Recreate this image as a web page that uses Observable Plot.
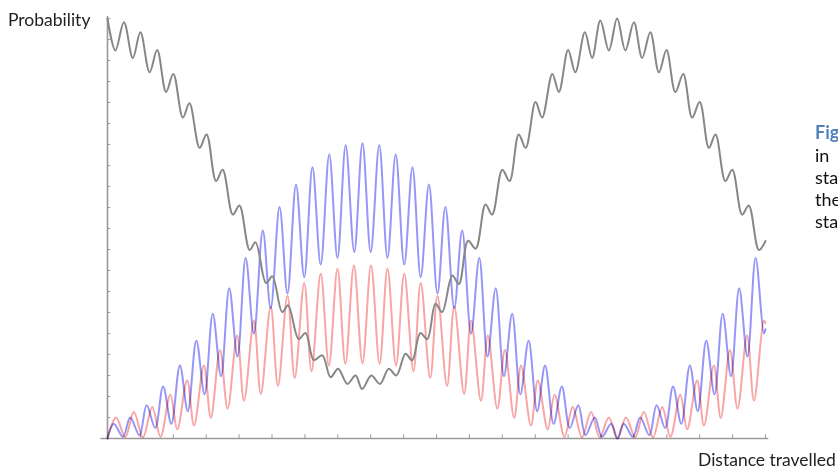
<!DOCTYPE html>
<html>
<head>
<meta charset="utf-8">
<script src="https://cdn.jsdelivr.net/npm/d3@7"></script>
<script src="https://cdn.jsdelivr.net/npm/@observablehq/plot@0.6"></script>
<style>
  html, body { margin: 0; padding: 0; background: #fff; overflow: hidden; }
  #chart { position: relative; width: 838px; height: 469px; }
  svg text.lbl { font-family: Lato, "Open Sans", sans-serif; fill: #222; text-anchor: start; }
</style>
</head>
<body>
<div id="chart"></div>
<script>
// Electron-neutrino survival probability (gray), read at its peaks and troughs
const survivalE = [
  [0,1.0],[0.24,0.924],[0.50,0.991],[0.77,0.906],[1.00,0.967],[1.28,0.872],[1.51,0.925],[1.78,0.825],
  [2.00,0.868],[2.29,0.764],[2.49,0.798],[2.80,0.692],[3.01,0.724],[3.30,0.613],[3.50,0.640],[3.81,0.533],
  [4.01,0.555],[4.32,0.449],[4.50,0.467],[4.82,0.370],[5.01,0.386],[5.31,0.301],[5.49,0.317],[5.81,0.237],
  [6.02,0.251],[6.27,0.187],[6.53,0.198],[6.78,0.146],[7.01,0.166],[7.29,0.130],[7.54,0.150],[7.74,0.118],
  [8.02,0.150],[8.28,0.130],[8.55,0.166],[8.78,0.150],[9.06,0.202],[9.26,0.186],[9.51,0.251],[9.72,0.237],
  [9.97,0.321],[10.17,0.301],[10.48,0.388],[10.68,0.368],[10.96,0.471],[11.19,0.452],[11.49,0.557],[11.69,0.533],
  [12.00,0.640],[12.22,0.613],[12.50,0.724],[12.71,0.692],[13.01,0.801],[13.21,0.764],[13.52,0.868],[13.72,0.825],
  [14.00,0.925],[14.22,0.872],[14.51,0.967],[14.73,0.906],[14.98,0.995],[15.24,0.924],[15.49,1.0],[15.74,0.924],
  [16.00,0.991],[16.25,0.906],[16.50,0.967],[16.76,0.872],[16.99,0.925],[17.26,0.825],[17.50,0.868],[17.77,0.764],
  [18.00,0.801],[18.28,0.692],[18.48,0.724],[18.78,0.613],[18.99,0.640],[19.29,0.533],[19.49,0.555],[19.80,0.449],
  [20.0,0.470]
];

// Blue series, read at its peaks and troughs
const blueMu = [
  [0,0.0],[0.19,0.035],[0.47,0.004],[0.69,0.05],[0.97,0.008],[1.19,0.079],[1.45,0.025],[1.69,0.124],
  [1.94,0.035],[2.2,0.174],[2.44,0.065],[2.7,0.233],[2.95,0.105],[3.2,0.297],[3.45,0.148],[3.7,0.358],
  [3.95,0.195],[4.2,0.430],[4.45,0.25],[4.72,0.495],[4.96,0.31],[5.23,0.551],[5.47,0.345],[5.73,0.605],
  [5.98,0.384],[6.23,0.646],[6.48,0.414],[6.74,0.676],[6.99,0.43],[7.24,0.698],[7.5,0.444],[7.75,0.703],
  [8.0,0.444],[8.26,0.698],[8.51,0.43],[8.76,0.676],[9.02,0.414],[9.27,0.646],[9.52,0.384],[9.77,0.605],
  [10.03,0.345],[10.27,0.551],[10.54,0.31],[10.78,0.495],[11.05,0.25],[11.3,0.430],[11.55,0.195],[11.8,0.358],
  [12.05,0.148],[12.3,0.297],[12.55,0.105],[12.8,0.233],[13.06,0.065],[13.3,0.174],[13.56,0.035],[13.81,0.124],
  [14.05,0.025],[14.31,0.079],[14.53,0.008],[14.81,0.05],[15.03,0.004],[15.31,0.035],[15.5,0.0],
  [15.69,0.035],[15.97,0.004],[16.19,0.05],[16.47,0.008],[16.69,0.079],[16.95,0.025],[17.19,0.124],[17.44,0.035],
  [17.7,0.174],[17.94,0.065],[18.2,0.233],[18.45,0.105],[18.7,0.297],[18.95,0.148],[19.2,0.358],[19.45,0.195],
  [19.7,0.430],[19.95,0.25],[20,0.26]
];

// Red series, read at its peaks and troughs
const redTau = [
  [0,0.0],[0.26,0.05],[0.54,0.003],[0.8,0.063],[1.08,0.003],[1.36,0.075],[1.61,0.004],[1.91,0.104],
  [2.12,0.022],[2.42,0.138],[2.63,0.031],[2.93,0.174],[3.14,0.049],[3.42,0.211],[3.65,0.071],[3.94,0.245],
  [4.15,0.09],[4.45,0.281],[4.66,0.106],[4.96,0.314],[5.18,0.125],[5.47,0.340],[5.69,0.144],[5.98,0.370],
  [6.2,0.16],[6.48,0.392],[6.73,0.174],[6.99,0.404],[7.23,0.178],[7.49,0.412],[7.75,0.179],
  [8.01,0.412],[8.27,0.178],[8.51,0.404],[8.77,0.174],[9.02,0.392],[9.3,0.16],[9.52,0.370],[9.81,0.144],
  [10.03,0.340],[10.32,0.125],[10.54,0.314],[10.84,0.106],[11.05,0.281],[11.35,0.09],[11.56,0.245],[11.85,0.071],
  [12.08,0.211],[12.36,0.049],[12.57,0.174],[12.87,0.031],[13.08,0.138],[13.38,0.022],[13.59,0.104],[13.89,0.004],
  [14.14,0.075],[14.42,0.003],[14.7,0.063],[14.96,0.003],[15.24,0.05],[15.5,0.0],
  [15.76,0.05],[16.04,0.003],[16.3,0.063],[16.58,0.003],[16.86,0.075],[17.11,0.004],[17.41,0.104],[17.62,0.022],
  [17.92,0.138],[18.13,0.031],[18.43,0.174],[18.64,0.049],[18.92,0.211],[19.15,0.071],[19.44,0.245],[19.65,0.09],
  [19.95,0.281],[20,0.275]
];

const xTicks = d3.range(0, 21, 1);
const yTicks = d3.range(0, 1.0001, 0.05);

const yLabel = "Probability";
const xLabel = "Distance travelled";
const sideTitle = "Fig";
const sideLines = ["in", "sta", "the", "sta"];

const axisColor = "#9a9a9a";
const lineOpts = {x: d => d[0], y: d => d[1], curve: "catmull-rom", strokeWidth: 2};

const svg = Plot.plot({
  width: 838,
  height: 469,
  marginLeft: 107,
  marginRight: 73,
  marginTop: 18,
  marginBottom: 31,
  x: {domain: [0, 20], axis: null},
  y: {domain: [0, 1], axis: null},
  marks: [
    Plot.ruleY([0], {x1: -0.2, x2: 20.1, stroke: axisColor, strokeWidth: 1.6}),
    Plot.ruleX([0], {y1: 0, y2: 1.005, stroke: axisColor, strokeWidth: 1.6}),
    Plot.ruleX(xTicks, {x: d => d, y1: 0, y2: 0.009, stroke: axisColor, strokeWidth: 1}),
    Plot.ruleY(yTicks, {y: d => d, x1: 0, x2: 0.1, stroke: axisColor, strokeWidth: 1}),
    Plot.line(blueMu, {...lineOpts, stroke: "rgb(150,150,248)", mixBlendMode: "multiply"}),
    Plot.line(redTau, {...lineOpts, stroke: "rgb(248,165,165)", mixBlendMode: "multiply"}),
    Plot.line(survivalE, {...lineOpts, stroke: "rgb(135,135,135)"})
  ]
});

const s = d3.select(svg);
s.append("text").attr("class", "lbl").attr("x", 8).attr("y", 26)
  .style("font-size", "17.5px").text(yLabel);
s.append("text").attr("class", "lbl").attr("x", 698).attr("y", 466)
  .style("font-size", "17.5px").text(xLabel);
s.append("text").attr("x", 815).attr("y", 139)
  .style("font-family", "Lato, 'Open Sans', sans-serif").style("font-weight", "bold")
  .style("text-anchor", "start")
  .style("font-size", "18px").style("fill", "rgb(79,129,189)").text(sideTitle);
sideLines.forEach((t, i) => {
  s.append("text").attr("class", "lbl").attr("x", 815).attr("y", 161.5 + i * 22.3)
    .style("font-size", "18px").style("fill", "#111").text(t);
});

document.getElementById("chart").appendChild(svg);
</script>
</body>
</html>
